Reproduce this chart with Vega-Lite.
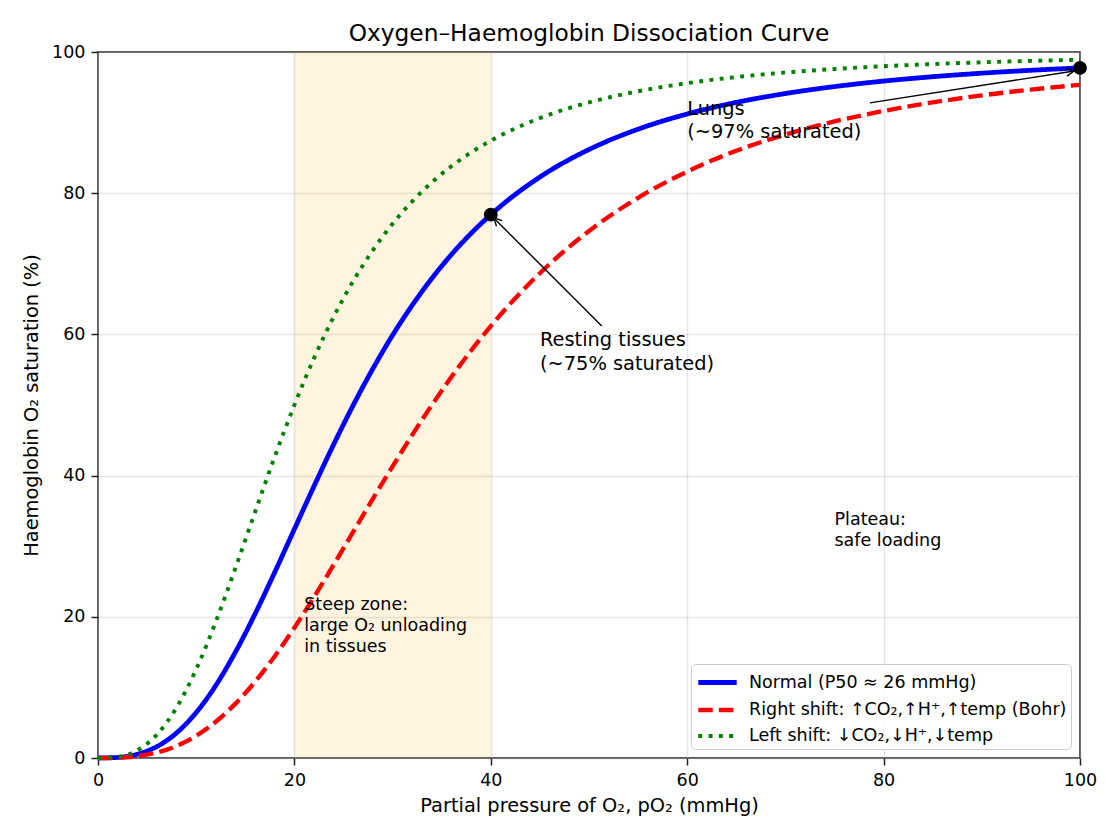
{
  "$schema": "https://vega.github.io/schema/vega-lite/v6.json",
  "autosize": "none",
  "width": 982,
  "height": 706,
  "padding": {"left": 98, "top": 52, "right": 40, "bottom": 82},
  "background": "white",
  "title": {
    "text": "Oxygen–Haemoglobin Dissociation Curve",
    "font": "DejaVu Sans",
    "fontSize": 23.3,
    "fontWeight": "normal",
    "color": "black",
    "baseline": "alphabetic",
    "offset": 12,
    "dy": 33
  },
  "config": {
    "view": {"stroke": "#222222", "strokeWidth": 1.5},
    "font": "DejaVu Sans",
    "axis": {
      "domain": false,
      "grid": true,
      "gridColor": "#b0b0b0",
      "gridOpacity": 0.3,
      "gridWidth": 1.5,
      "tickColor": "#222222",
      "tickWidth": 1.5,
      "tickSize": 7,
      "labelFont": "DejaVu Sans",
      "labelFontSize": 17.5,
      "labelColor": "black",
      "labelPadding": 6,
      "labelFlush": false,
      "titleFont": "DejaVu Sans",
      "titleFontSize": 19.4,
      "titleFontWeight": "normal",
      "titleColor": "black"
    },
    "legend": {
      "orient": "bottom-right",
      "offset": 9,
      "strokeColor": "#cccccc",
      "fillColor": "rgba(255,255,255,0.85)",
      "cornerRadius": 4,
      "padding": 4,
      "labelFont": "DejaVu Sans",
      "labelFontSize": 17.5,
      "labelColor": "black",
      "labelLimit": 0,
      "labelOffset": 17,
      "symbolType": "M-1.6,0L1.6,0",
      "symbolSize": 576,
      "symbolOffset": 8,
      "symbolStrokeWidth": 3.5,
      "rowPadding": 2.5
    }
  },
  "datasets": {
    "curves": [
      {"p": 0, "Normal": 0, "Right": 0, "Left": 0},
      {"p": 2, "Normal": 0.08, "Right": 0.04, "Left": 0.16},
      {"p": 4, "Normal": 0.53, "Right": 0.25, "Left": 1.09},
      {"p": 6, "Normal": 1.62, "Right": 0.77, "Left": 3.32},
      {"p": 8, "Normal": 3.56, "Right": 1.71, "Left": 7.14},
      {"p": 10, "Normal": 6.44, "Right": 3.15, "Left": 12.56},
      {"p": 12, "Normal": 10.29, "Right": 5.14, "Left": 19.31},
      {"p": 14, "Normal": 15.02, "Right": 7.7, "Left": 26.92},
      {"p": 16, "Normal": 20.43, "Right": 10.81, "Left": 34.87},
      {"p": 18, "Normal": 26.32, "Right": 14.42, "Left": 42.68},
      {"p": 20, "Normal": 32.42, "Right": 18.45, "Left": 50.0},
      {"p": 22, "Normal": 38.51, "Right": 22.81, "Left": 56.64},
      {"p": 24, "Normal": 44.42, "Right": 27.38, "Left": 62.49},
      {"p": 26, "Normal": 50.0, "Right": 32.05, "Left": 67.58},
      {"p": 28, "Normal": 55.17, "Right": 36.73, "Left": 71.95},
      {"p": 30, "Normal": 59.89, "Right": 41.32, "Left": 75.68},
      {"p": 32, "Normal": 64.13, "Right": 45.76, "Left": 78.85},
      {"p": 34, "Normal": 67.94, "Right": 50.0, "Left": 81.54},
      {"p": 36, "Normal": 71.32, "Right": 53.99, "Left": 83.83},
      {"p": 38, "Normal": 74.32, "Right": 57.72, "Left": 85.78},
      {"p": 40, "Normal": 76.96, "Right": 61.18, "Left": 87.44},
      {"p": 45, "Normal": 82.29, "Right": 68.67, "Left": 90.64},
      {"p": 50, "Normal": 86.19, "Right": 74.64, "Left": 92.86},
      {"p": 55, "Normal": 89.07, "Right": 79.35, "Left": 94.44},
      {"p": 60, "Normal": 91.22, "Right": 83.06, "Left": 95.59},
      {"p": 65, "Normal": 92.86, "Right": 86.0, "Left": 96.45},
      {"p": 70, "Normal": 94.12, "Right": 88.31, "Left": 97.09},
      {"p": 75, "Normal": 95.1, "Right": 90.16, "Left": 97.59},
      {"p": 80, "Normal": 95.88, "Right": 91.65, "Left": 97.98},
      {"p": 85, "Normal": 96.5, "Right": 92.86, "Left": 98.29},
      {"p": 90, "Normal": 97.0, "Right": 93.85, "Left": 98.54},
      {"p": 95, "Normal": 97.41, "Right": 94.67, "Left": 98.74},
      {"p": 100, "Normal": 97.75, "Right": 95.35, "Left": 98.91}
    ],
    "markers": [
      {"p": 40, "S": 76.96, "site": "Resting tissues"},
      {"p": 100, "S": 97.75, "site": "Lungs"}
    ],
    "arrows": [
      {"site": "Lungs", "x0": 78.6, "y0": 92.8, "x1": 99.4, "y1": 97.3},
      {"site": "Resting tissues", "x0": 51.3, "y0": 61.2, "x1": 40.3, "y1": 76.5}
    ],
    "notes": [
      {"x": 60, "y": 91.1, "label": "Lungs\n(~97% saturated)"},
      {"x": 45, "y": 58.3, "label": "Resting tissues\n(~75% saturated)"}
    ],
    "smallNotes": [
      {"x": 21, "y": 20.95, "label": "Steep zone:\nlarge O₂ unloading\nin tissues"},
      {"x": 75, "y": 33.0, "label": "Plateau:\nsafe loading"}
    ]
  },
  "encoding": {
    "x": {
      "type": "quantitative",
      "scale": {"domain": [0, 100], "nice": false, "zero": false},
      "axis": {"values": [0, 20, 40, 60, 80, 100], "title": "Partial pressure of O₂, pO₂ (mmHg)", "titlePadding": 8}
    },
    "y": {
      "type": "quantitative",
      "scale": {"domain": [0, 100], "nice": false, "zero": false},
      "axis": {"values": [0, 20, 40, 60, 80, 100], "title": "Haemoglobin O₂ saturation (%)", "titlePadding": 10}
    }
  },
  "layer": [
    {
      "data": {"values": [{"from": 20, "to": 40}]},
      "mark": {"type": "rect", "color": "orange", "opacity": 0.12},
      "encoding": {"x": {"field": "from"}, "x2": {"field": "to"}}
    },
    {
      "mark": {"type": "rule", "color": "#e4d6bf", "strokeWidth": 1.5},
      "encoding": {"x": {"datum": 20}}
    },
    {
      "mark": {"type": "rule", "color": "#bdb6ad", "strokeWidth": 2},
      "encoding": {"x": {"datum": 40}}
    },
    {
      "data": {"name": "curves"},
      "transform": [{"fold": ["Normal", "Right", "Left"], "as": ["curve", "S"]}],
      "mark": {"type": "line", "interpolate": "monotone", "strokeCap": "butt", "clip": false},
      "encoding": {
        "x": {"field": "p"},
        "y": {"field": "S"},
        "color": {
          "field": "curve",
          "type": "nominal",
          "scale": {"domain": ["Normal", "Right", "Left"], "range": ["#0000ff", "#ff0000", "#008000"]},
          "legend": {
            "title": null,
            "labelExpr": "datum.label == 'Normal' ? 'Normal (P50 ≈ 26 mmHg)' : datum.label == 'Right' ? 'Right shift: ↑CO₂,↑H⁺,↑temp (Bohr)' : 'Left shift: ↓CO₂,↓H⁺,↓temp'"
          }
        },
        "strokeDash": {
          "field": "curve",
          "type": "nominal",
          "scale": {"domain": ["Normal", "Right", "Left"], "range": [[1, 0], [14.4, 6.2], [3.9, 6.4]]},
          "legend": {
            "title": null,
            "labelExpr": "datum.label == 'Normal' ? 'Normal (P50 ≈ 26 mmHg)' : datum.label == 'Right' ? 'Right shift: ↑CO₂,↑H⁺,↑temp (Bohr)' : 'Left shift: ↓CO₂,↓H⁺,↓temp'"
          }
        },
        "strokeWidth": {
          "field": "curve",
          "type": "nominal",
          "scale": {"domain": ["Normal", "Right", "Left"], "range": [4.8, 3.9, 3.9]},
          "legend": null
        }
      }
    },
    {
      "data": {"name": "markers"},
      "mark": {"type": "point", "shape": "circle", "filled": true, "color": "black", "size": 190, "opacity": 1, "clip": false},
      "encoding": {"x": {"field": "p"}, "y": {"field": "S"}}
    },
    {
      "data": {"name": "arrows"},
      "mark": {"type": "rule", "color": "black", "strokeWidth": 1.4},
      "encoding": {"x": {"field": "x0"}, "y": {"field": "y0"}, "x2": {"field": "x1"}, "y2": {"field": "y1"}}
    },
    {
      "data": {"name": "arrows"},
      "transform": [{"filter": "datum.site == 'Lungs'"}],
      "mark": {"type": "point", "shape": "M-1,-0.5L0,0L-1,0.5", "filled": false, "stroke": "black", "strokeWidth": 1.4, "size": 243, "angle": 351.2, "opacity": 1},
      "encoding": {"x": {"field": "x1"}, "y": {"field": "y1"}}
    },
    {
      "data": {"name": "arrows"},
      "transform": [{"filter": "datum.site == 'Resting tissues'"}],
      "mark": {"type": "point", "shape": "M-1,-0.5L0,0L-1,0.5", "filled": false, "stroke": "black", "strokeWidth": 1.4, "size": 243, "angle": 225, "opacity": 1},
      "encoding": {"x": {"field": "x1"}, "y": {"field": "y1"}}
    },
    {
      "data": {"name": "notes"},
      "mark": {"type": "text", "align": "left", "baseline": "alphabetic", "lineBreak": "\n", "lineHeight": 23.3, "font": "DejaVu Sans", "fontSize": 19.4, "color": "black"},
      "encoding": {"x": {"field": "x"}, "y": {"field": "y"}, "text": {"field": "label"}}
    },
    {
      "data": {"name": "smallNotes"},
      "mark": {"type": "text", "align": "left", "baseline": "alphabetic", "lineBreak": "\n", "lineHeight": 21, "font": "DejaVu Sans", "fontSize": 17.5, "color": "black"},
      "encoding": {"x": {"field": "x"}, "y": {"field": "y"}, "text": {"field": "label"}}
    }
  ]
}
